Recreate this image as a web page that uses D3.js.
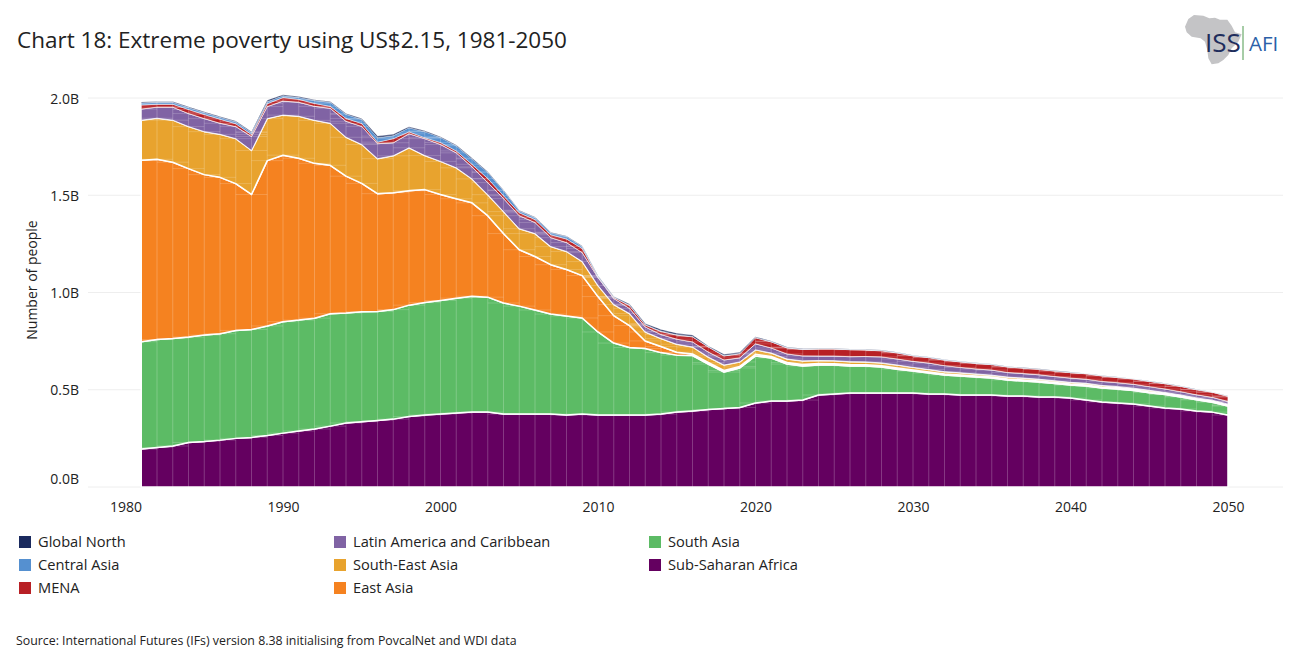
<!DOCTYPE html>
<html>
<head>
<meta charset="utf-8">
<script src="https://cdn.jsdelivr.net/npm/d3@7"></script>
<style>
  body { margin: 0; background: #fff; }
  svg text { font-family: "Open Sans", sans-serif; fill: #222; }
</style>
</head>
<body>
<svg id="chart" width="1295" height="667"></svg>
<script>
// Years on the chart and axis ticks
const years = d3.range(1981, 2051);
const xTicks = [1980, 1990, 2000, 2010, 2020, 2030, 2040, 2050];
const yTicks = [0, 500, 1000, 1500, 2000];

// Number of people in extreme poverty, in millions, one value per year
const subSaharanAfrica = [
  195, 203, 211, 229, 234, 241, 250, 255, 265, 277,
  288, 298, 313, 329, 336, 342, 349, 362, 370, 375,
  380, 385, 385, 375, 375, 375, 375, 370, 375, 370,
  370, 370, 370, 375, 385, 391, 398, 403, 409, 432,
  442, 442, 447, 473, 478, 483, 483, 483, 483, 483,
  478, 478, 473, 473, 473, 468, 468, 463, 463, 457,
  447, 437, 432, 427, 416, 406, 401, 391, 385, 370];
const southAsia = [
  552, 555, 552, 542, 547, 547, 555, 555, 563, 573,
  570, 570, 578, 565, 565, 560, 563, 573, 578, 584,
  591, 596, 591, 571, 555, 535, 514, 509, 494, 427,
  370, 347, 342, 316, 293, 285, 234, 188, 203, 242,
  221, 190, 175, 154, 149, 139, 139, 134, 123, 113,
  108, 98, 98, 93, 87, 82, 77, 77, 69, 67,
  72, 72, 72, 69, 69, 69, 62, 57, 51, 46];
const eastAsia = [
  933, 927, 907, 866, 825, 804, 755, 694, 850, 856,
  832, 796, 763, 704, 660, 606, 601, 588, 581, 545,
  511, 480, 419, 357, 290, 275, 254, 239, 218, 182,
  141, 113, 39, 31, 15, 8, 8, 8, 8, 8,
  8, 8, 8, 8, 7, 7, 6, 6, 6, 5,
  5, 5, 5, 5, 5, 5, 5, 5, 5, 5,
  5, 4, 4, 4, 4, 3, 3, 3, 3, 3];
const southEastAsia = [
  206, 211, 216, 216, 221, 221, 231, 226, 216, 206,
  216, 221, 216, 200, 200, 180, 190, 221, 175, 170,
  159, 123, 108, 113, 108, 118, 93, 93, 72, 57,
  57, 62, 46, 41, 41, 36, 28, 28, 23, 23,
  18, 18, 18, 15, 15, 15, 15, 15, 15, 14,
  13, 12, 11, 10, 10, 10, 10, 9, 9, 9,
  9, 9, 8, 8, 8, 8, 7, 7, 7, 7];
const latinAmerica = [
  57, 57, 67, 67, 67, 57, 62, 72, 62, 72,
  72, 72, 77, 82, 93, 77, 67, 72, 87, 87,
  77, 62, 62, 67, 67, 57, 46, 46, 46, 41,
  31, 26, 26, 21, 26, 26, 26, 26, 21, 31,
  26, 26, 26, 23, 24, 26, 28, 31, 31, 31,
  33, 31, 28, 26, 26, 24, 23, 23, 22, 22,
  21, 21, 20, 20, 19, 18, 17, 16, 15, 14];
const mena = [
  21, 15, 15, 21, 21, 21, 15, 10, 15, 18,
  15, 15, 10, 15, 15, 8, 21, 10, 5, 10,
  10, 13, 21, 15, 15, 15, 15, 18, 21, 3,
  5, 15, 10, 15, 21, 26, 26, 21, 21, 31,
  31, 31, 33, 36, 36, 36, 33, 31, 31, 28,
  28, 28, 28, 28, 28, 28, 28, 28, 28, 28,
  28, 28, 27, 27, 27, 27, 27, 26, 26, 26];
const centralAsia = [
  10, 10, 10, 10, 10, 10, 10, 10, 10, 10,
  10, 15, 21, 21, 21, 23, 15, 21, 31, 26,
  26, 28, 31, 26, 10, 10, 10, 13, 10, 3,
  3, 3, 3, 3, 2, 2, 2, 2, 2, 2,
  2, 2, 2, 2, 2, 2, 2, 2, 2, 2,
  2, 2, 2, 2, 2, 1, 1, 1, 1, 1,
  1, 1, 1, 1, 1, 1, 1, 1, 1, 1];
const globalNorth = [
  5, 4, 4, 4, 4, 4, 4, 4, 8, 5,
  5, 4, 4, 4, 4, 8, 8, 5, 4, 4,
  4, 4, 4, 3, 3, 3, 3, 3, 3, 3,
  3, 5, 5, 8, 8, 8, 3, 6, 6, 3,
  3, 3, 3, 3, 3, 2, 2, 2, 2, 2,
  2, 2, 2, 2, 2, 2, 2, 2, 2, 2,
  1, 1, 1, 1, 1, 1, 1, 1, 1, 1];

// Series names and colours, stacked from the bottom up
const seriesNames = ["Sub-Saharan Africa", "South Asia", "East Asia", "South-East Asia",
  "Latin America and Caribbean", "MENA", "Central Asia", "Global North"];
const seriesValues = [subSaharanAfrica, southAsia, eastAsia, southEastAsia,
  latinAmerica, mena, centralAsia, globalNorth];
const seriesColors = ["#640060", "#5cbb65", "#f58220", "#e8a32e",
  "#8063a4", "#b82025", "#5590d0", "#1a2a5e"];
// Thin bands at the top get a thinner white edge so they still show
const seriesEdges = [1.5, 1.5, 1.5, 1.5, 0.8, 0.6, 0.4, 0.3];

// Legend reads down the columns, in reverse stacking order
const legendNames = seriesNames.slice().reverse();
const legendColors = seriesColors.slice().reverse();

const svg = d3.select("#chart");

const x = d3.scaleLinear().domain([1980, 2050]).range([125.5, 1228]);
const y = d3.scaleLinear().domain([0, 2000]).range([487, 98]);

// Builds one row per year for d3.stack
const rows = years.map((year, i) => {
  let row = { year: year };
  seriesNames.forEach((name, s) => { row[name] = seriesValues[s][i]; });
  return row;
});
const stacked = d3.stack().keys(seriesNames)(rows);

// Gridlines and the y axis
const yAxis = d3.axisLeft(y).tickValues(yTicks).tickSize(0)
  .tickFormat(d => (d / 1000).toFixed(1) + "B");
const yGroup = svg.append("g").attr("transform", "translate(79,0)").call(yAxis);
yGroup.select(".domain").remove();
yGroup.selectAll("text").attr("x", 0).attr("font-size", 14)
  .attr("dy", d => d === 0 ? "-0.25em" : "0.36em");

svg.append("g").selectAll("line").data(yTicks).join("line")
  .attr("x1", 88).attr("x2", 1283)
  .attr("y1", d => y(d)).attr("y2", d => y(d))
  .attr("stroke", "#eeeeee").attr("stroke-width", 1);

// x axis
const xAxis = d3.axisBottom(x).tickValues(xTicks).tickSize(0).tickFormat(d3.format("d"));
const xGroup = svg.append("g").attr("transform", "translate(0,487)").call(xAxis);
xGroup.select(".domain").remove();
xGroup.selectAll("text").attr("y", 14.6).attr("font-size", 14);

// Stacked areas
const area = d3.area()
  .x(d => x(d.data.year))
  .y0(d => y(d[0]))
  .y1(d => y(d[1]));

svg.append("g").selectAll("path").data(stacked).join("path")
  .attr("d", area)
  .attr("fill", (d, i) => seriesColors[i])
  .attr("stroke", "#fff")
  .attr("stroke-width", (d, i) => seriesEdges[i])
  .attr("stroke-linejoin", "round");

// Faint year lines through the stack
svg.append("g").selectAll("line").data(rows).join("line")
  .attr("x1", d => x(d.year)).attr("x2", d => x(d.year))
  .attr("y1", y(0))
  .attr("y2", (d, i) => y(stacked[stacked.length - 1][i][1]))
  .attr("stroke", "#fff").attr("stroke-opacity", 0.22).attr("stroke-width", 1);

// Faint short dashes at each band edge, reaching one year each side
stacked.forEach((band) => {
  svg.append("g").selectAll("line").data(band).join("line")
    .attr("x1", d => x(Math.max(1981, d.data.year - 1)))
    .attr("x2", d => x(Math.min(2050, d.data.year + 1)))
    .attr("y1", d => y(d[1])).attr("y2", d => y(d[1]))
    .attr("stroke", "#fff").attr("stroke-opacity", 0.18).attr("stroke-width", 1);
});

// Title, y label and source
svg.append("text").attr("x", 17).attr("y", 47.5).attr("font-size", 22.5).text("Chart 18: Extreme poverty using US$2.15, 1981-2050");
svg.append("text").attr("transform", "translate(37,280) rotate(-90)")
  .attr("text-anchor", "middle").attr("font-size", 14).text("Number of people");
svg.append("text").attr("x", 16).attr("y", 644.5).attr("font-size", 12.35)
  .text("Source: International Futures (IFs) version 8.38 initialising from PovcalNet and WDI data");

// Legend, three columns
const legendColX = [19, 334, 649];
const legendRowY = [536, 559, 582];
const legendCols = [3, 3, 2];
let legendIndex = 0;
legendCols.forEach((count, c) => {
  for (let r = 0; r < count; r++) {
    let g = svg.append("g").attr("transform", `translate(${legendColX[c]},${legendRowY[r]})`);
    g.append("rect").attr("width", 12).attr("height", 12).attr("fill", legendColors[legendIndex]);
    g.append("text").attr("x", 19).attr("y", 11).attr("font-size", 14.65).text(legendNames[legendIndex]);
    legendIndex++;
  }
});

// ISS AFI logo
const logo = svg.append("g").attr("transform", "translate(1170,5)");
logo.append("path").attr("transform", "scale(0.3333)")
  .attr("d", "M45,65 L55,42 L72,30 L100,32 L118,40 L135,38 L150,44 L172,44 L185,62 L195,82 L215,88 L205,110 L185,130 L175,150 L160,165 L145,175 L125,178 L115,160 L112,135 L105,110 L92,100 L65,95 L50,82 Z")
  .attr("fill", "#c4c4c6");
logo.append("text").attr("x", 35).attr("y", 46.5).attr("font-size", 26)
  .style("fill", "#1f2d5c").text("ISS");
logo.append("line").attr("x1", 73).attr("x2", 73).attr("y1", 21).attr("y2", 55)
  .attr("stroke", "#4f9a4f").attr("stroke-width", 1);
logo.append("text").attr("x", 79).attr("y", 45.5).attr("font-size", 20.5)
  .style("fill", "#2c5fa8").text("AFI");
</script>
</body>
</html>
